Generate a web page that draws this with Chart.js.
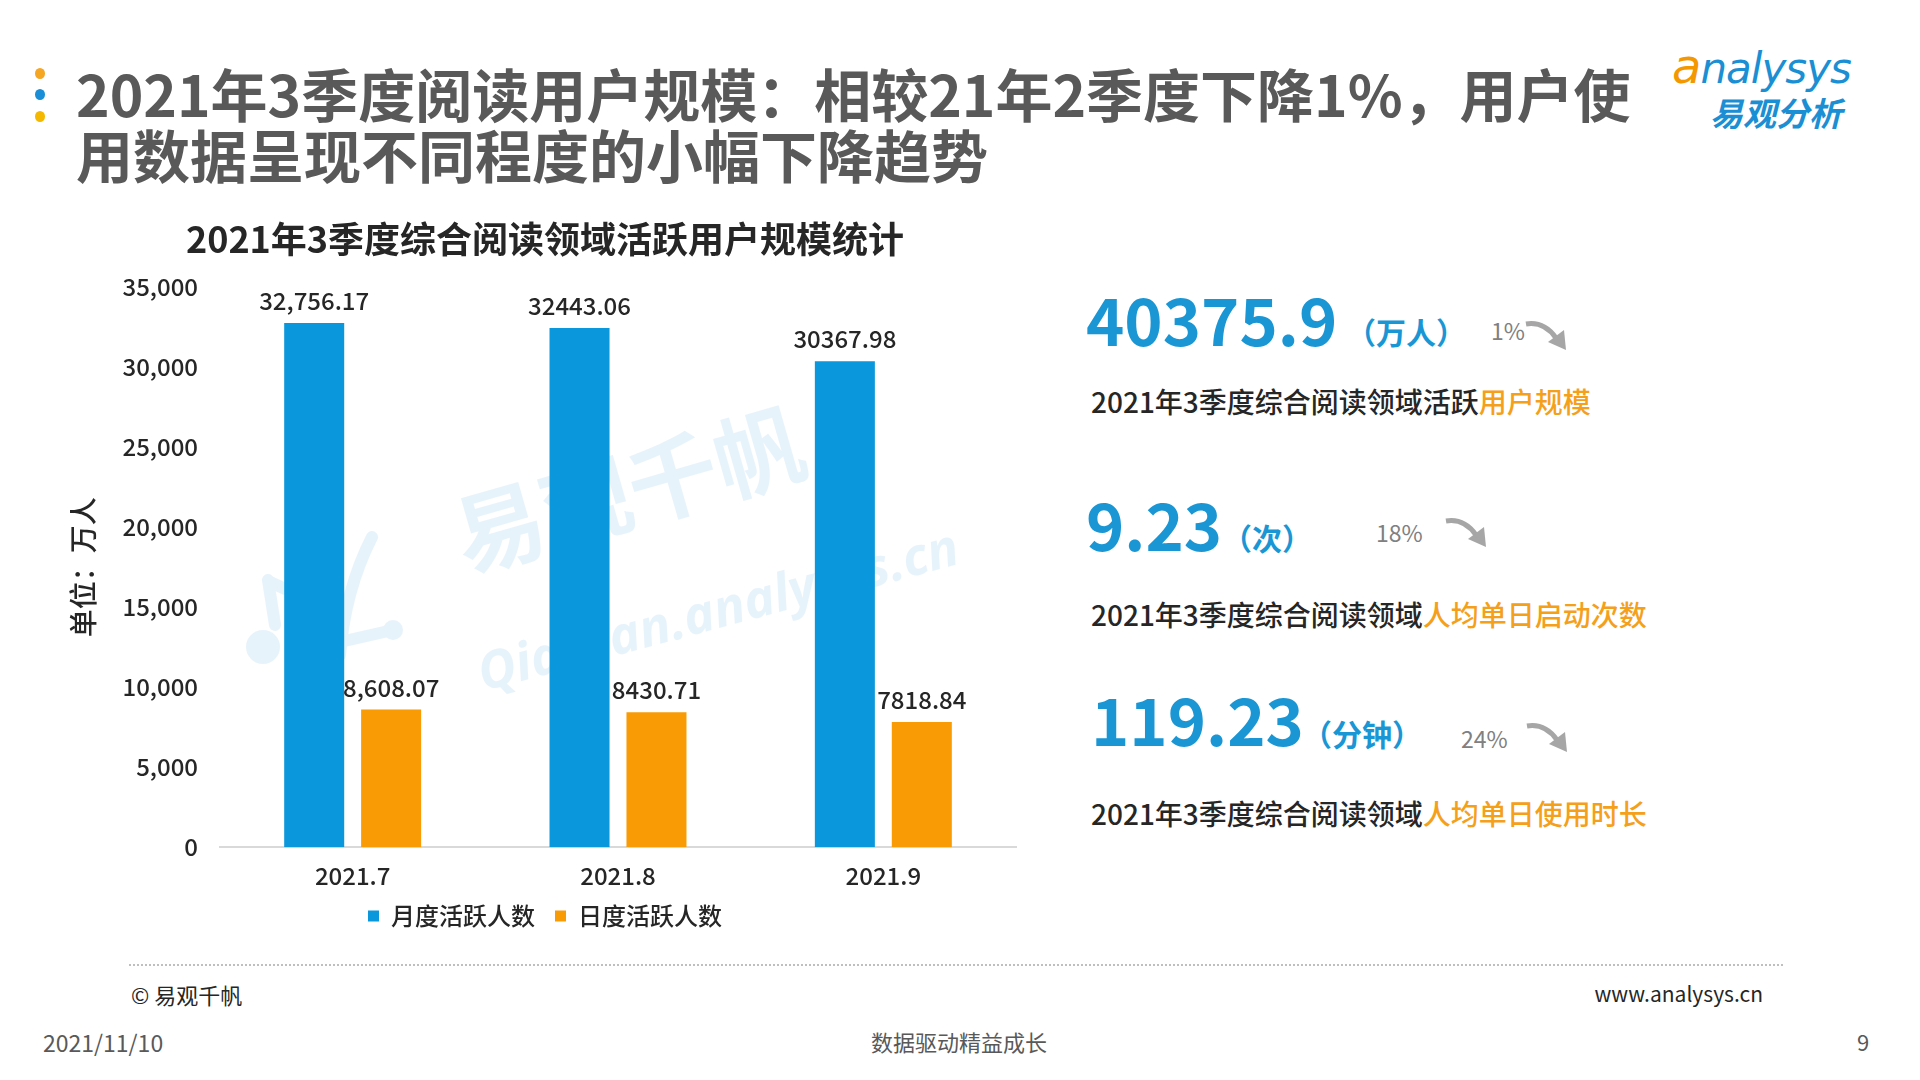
<!DOCTYPE html>
<html>
<head>
<meta charset="utf-8">
<script src="https://cdn.jsdelivr.net/npm/chart.js@4.4.0/dist/chart.umd.min.js"></script>
<style>
    body { margin: 0; width: 1920px; height: 1080px; background: #fff; position: relative; overflow: hidden;
           font-family: "Noto Sans CJK SC", "Noto Sans", sans-serif; }
    .abs { position: absolute; white-space: nowrap; }
    .dot { position: absolute; width: 10px; height: 11px; border-radius: 50%; left: 35px; }
    .title { left: 76px; top: 62px; font-size: 57px; line-height: 61px; font-weight: 700; color: #595959; }
    .big { font-weight: 700; color: #1A96D5; font-size: 65px; line-height: 1; }
    .unit { font-weight: 700; color: #1A96D5; font-size: 30px; }
    .pct { color: #808080; font-size: 23px; }
    .desc { font-size: 28px; color: #262626; font-weight: 500; }
    .desc b { color: #F5A01A; font-weight: 500; }
    .foot { font-size: 22px; color: #595959; }
    .wm { color: #1E8FDC; opacity: 0.1; font-weight: 700; transform-origin: left center; }
</style>
</head>
<body>

<!-- 左侧装饰点 -->
<div class="dot" style="top:68px; background:#F5A623;"></div>
<div class="dot" style="top:89px; background:#1A8FD8;"></div>
<div class="dot" style="top:111px; background:#F5B800;"></div>

<div class="abs title">2021年3季度阅读用户规模：相较21年2季度下降1%，用户使<br>用数据呈现不同程度的小幅下降趋势</div>

<!-- logo -->
<div class="abs" style="left:1672px; top:38px; font-size:42px; font-style:italic; color:#1B8FD3; font-family:'DejaVu Sans', sans-serif; letter-spacing:-1px;"><span style="color:#F39800; font-size:48px;">a</span>nalysys</div>
<div class="abs" style="left:1710px; top:88px; font-size:33px; font-weight:700; font-style:italic; color:#1B8FD3;">易观分析</div>

<!-- 水印 -->
<svg class="abs" style="left:0; top:0; opacity:0.1;" width="1920" height="1080">
    <g stroke="#1E8FDC" stroke-width="12" stroke-linecap="round" fill="none">
        <path d="M268 580 L275 625"/>
        <path d="M270 582 L305 598"/>
        <path d="M372 537 Q345 590 340 655"/>
        <path d="M340 642 L393 630"/>
    </g>
    <circle cx="263" cy="647" r="17" fill="#1E8FDC"/>
    <circle cx="393" cy="630" r="10" fill="#1E8FDC"/>
</svg>
<div class="abs wm" style="left:455px; top:470px; font-size:90px; transform: rotate(-16deg);">易观千帆</div>
<div class="abs wm" style="left:478px; top:636px; font-size:52px; font-style:italic; font-family:'Open Sans', sans-serif; transform: rotate(-15deg);">Qianfan.analysys.cn</div>

<div class="abs" style="left:40px; top:205px; width:1000px; height:753px;">
    <canvas id="mainChart"></canvas>
</div>

<!-- 右侧指标 -->
<div class="abs big" style="left:1086px; top:286px;">40375.9</div>
<div class="abs unit" style="left:1346px; top:309px;">（万人）</div>
<div class="abs pct" style="left:1491px; top:313px;">1%</div>
<svg class="abs" style="left:1524px; top:318px;" width="48" height="34" viewBox="0 0 48 34">
    <path d="M2 6 Q20 3 32 20" stroke="#A6A6A6" stroke-width="5" fill="none"/>
    <path d="M24 24 L42 32 L40 12 Z" fill="#A6A6A6"/>
</svg>
<div class="abs desc" style="left:1091px; top:381px;">2021年3季度综合阅读领域活跃<b>用户规模</b></div>

<div class="abs big" style="left:1086px; top:491px;">9.23</div>
<div class="abs unit" style="left:1222px; top:515px;">（次）</div>
<div class="abs pct" style="left:1376px; top:515px;">18%</div>
<svg class="abs" style="left:1444px; top:515px;" width="48" height="34" viewBox="0 0 48 34">
    <path d="M2 6 Q20 3 32 20" stroke="#A6A6A6" stroke-width="5" fill="none"/>
    <path d="M24 24 L42 32 L40 12 Z" fill="#A6A6A6"/>
</svg>
<div class="abs desc" style="left:1091px; top:594px;">2021年3季度综合阅读领域<b>人均单日启动次数</b></div>

<div class="abs big" style="left:1091px; top:686px;">119.23</div>
<div class="abs unit" style="left:1302px; top:711px;">（分钟）</div>
<div class="abs pct" style="left:1461px; top:721px;">24%</div>
<svg class="abs" style="left:1525px; top:720px;" width="48" height="34" viewBox="0 0 48 34">
    <path d="M2 6 Q20 3 32 20" stroke="#A6A6A6" stroke-width="5" fill="none"/>
    <path d="M24 24 L42 32 L40 12 Z" fill="#A6A6A6"/>
</svg>
<div class="abs desc" style="left:1091px; top:793px;">2021年3季度综合阅读领域<b>人均单日使用时长</b></div>

<!-- 页脚 -->
<div class="abs" style="left:129px; top:964px; width:1654px; border-top:2px dotted #BFBFBF;"></div>
<div class="abs foot" style="left:131px; top:978px; color:#262626;">© 易观千帆</div>
<div class="abs foot" style="right:157px; top:978px; font-size:21px; color:#262626;">www.analysys.cn</div>
<div class="abs foot" style="left:43px; top:1025px; font-size:23px;">2021/11/10</div>
<div class="abs foot" style="left:959px; top:1025px; transform:translateX(-50%);">数据驱动精益成长</div>
<div class="abs foot" style="left:1857px; top:1025px;">9</div>

<script>
// ===========================
// 数据
// ===========================
const months = ['2021.7', '2021.8', '2021.9'];
const seriesNames = ['月度活跃人数', '日度活跃人数'];
const mauValues = [32756.17, 32443.06, 30367.98];
const dauValues = [8608.07, 8430.71, 7818.84];
// 原图中标签格式不统一，照原样保留
const mauLabels = ['32,756.17', '32443.06', '30367.98'];
const dauLabels = ['8,608.07', '8430.71', '7818.84'];

const yMax = 35000;
const yStep = 5000;

const BLUE = '#0B97DB';
const ORANGE = '#F99B05';
const TEXT = '#262626';

Chart.defaults.font.family = '"Noto Sans CJK SC", "Noto Sans", sans-serif';
Chart.defaults.color = TEXT;

/**
 * 柱顶数值标签
 */
const barLabels = {
    id: 'barLabels',
    afterDatasetsDraw(chart) {
        const ctx = chart.ctx;
        const texts = [mauLabels, dauLabels];
        ctx.save();
        ctx.font = '500 24px "Noto Sans CJK SC"';
        ctx.fillStyle = TEXT;
        ctx.textAlign = 'center';
        ctx.textBaseline = 'bottom';
        chart.data.datasets.forEach((ds, i) => {
            chart.getDatasetMeta(i).data.forEach((bar, j) => {
                ctx.fillText(texts[i][j], bar.x, bar.y - 10);
            });
        });
        ctx.restore();
    }
};

/**
 * 图例往上靠近横轴
 */
const legendNudge = {
    id: 'legendNudge',
    afterLayout(chart) {
        if (chart.legend) {
            chart.legend.top -= 20;
            chart.legend.bottom -= 20;
        }
    }
};

const ctx = document.getElementById('mainChart');
new Chart(ctx, {
    type: 'bar',
    data: {
        labels: months,
        datasets: [
            { label: seriesNames[0], data: mauValues, backgroundColor: BLUE },
            { label: seriesNames[1], data: dauValues, backgroundColor: ORANGE }
        ]
    },
    options: {
        responsive: true,
        maintainAspectRatio: false,
        animation: false,
        categoryPercentage: 0.58,
        barPercentage: 0.78,
        layout: { padding: { left: 34, right: 24, top: 0, bottom: 0 } },
        plugins: {
            title: {
                display: true,
                text: '2021年3季度综合阅读领域活跃用户规模统计',
                color: TEXT,
                font: { size: 36, weight: 'bold' },
                padding: { top: 13, bottom: 26 }
            },
            legend: {
                position: 'bottom',
                labels: {
                    color: TEXT,
                    font: { size: 24, weight: '500' },
                    boxWidth: 11,
                    boxHeight: 11,
                    padding: 20
                }
            },
            tooltip: { enabled: false }
        },
        scales: {
            x: {
                grid: { display: false, drawTicks: false },
                border: { display: true, color: '#D9D9D9', width: 2 },
                ticks: { color: TEXT, font: { size: 24, weight: '500' }, padding: 14 }
            },
            y: {
                min: 0,
                max: yMax,
                grid: { display: false, drawTicks: false },
                border: { display: false },
                afterFit(scale) { scale.width = 146; },
                ticks: {
                    stepSize: yStep,
                    color: TEXT,
                    font: { size: 24, weight: '500' },
                    padding: 22,
                    callback: v => v.toLocaleString('en-US')
                },
                title: {
                    display: true,
                    text: '单位：万人',
                    color: TEXT,
                    font: { size: 28, weight: '500' },
                    padding: { top: -7, bottom: 0 }
                }
            }
        }
    },
    plugins: [barLabels, legendNudge]
});
</script>
</body>
</html>
